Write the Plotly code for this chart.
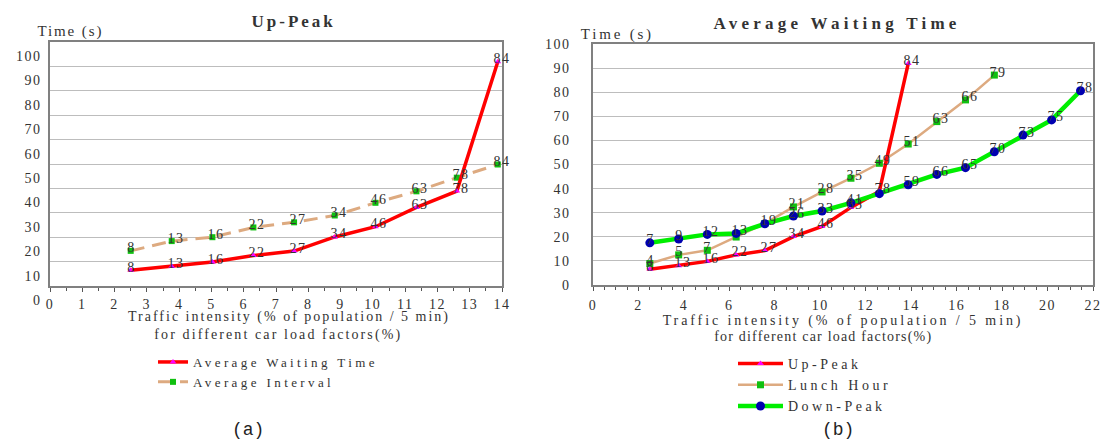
import json
import plotly.graph_objects as go

W, H = 1110, 441

# ---------------- data ----------------
# traffic intensity (% of population / 5 min)
traffic = [2.5, 3.77, 5.03, 6.3, 7.56, 8.82, 10.08, 11.35, 12.6, 13.87,
           15.13, 16.39, 17.66, 18.92, 20.18, 21.45]

up_peak_wait = [6.5, 8.0, 9.8, 12.5, 14.3, 20.1, 24.3, 32.2, 38.9, 91.9]
up_peak_interval = [14.4, 18.4, 20.0, 24.0, 26.1, 28.9, 34.1, 38.8, 44.4, 49.8]
lunch_wait = [8.9, 12.5, 14.4, 19.9, 25.5, 32.4, 38.6, 44.3, 50.5, 58.5, 67.8, 76.8, 87.1]
down_wait = [17.5, 19.1, 21.0, 21.4, 25.4, 28.6, 30.7, 34.1, 37.9, 41.6, 45.9, 48.7,
             55.3, 62.2, 68.5, 80.6]

# car load factors (%) printed next to the points
up_peak_load = ["8", "13", "16", "22", "27", "34", "46", "63", "78", "84"]
interval_load = ["8", "13", "16", "22", "27", "34", "46", "63", "78", "84"]
lunch_load = ["4", "5", "7", "", "", "21", "28", "35", "49", "51", "63", "66", "79"]
down_load = ["7", "9", "12", "13", "19", "26", "33", "41", "", "59", "66", "65",
             "70", "73", "75", "78"]

y_ticks = list(range(0, 101, 10))
x_ticks_a = list(range(0, 15))
x_ticks_b = list(range(0, 23, 2))

# ---------------- style ----------------
SERIF = "Liberation Serif, Times New Roman, serif"
MONO = "Liberation Mono, DejaVu Sans Mono, monospace"
TXT = "#333333"
RED = "#FF0000"
TAN = "#DDAA80"
GREEN_LINE = "#00EE00"
GREEN_MK = "#10C010"
MAGENTA = "#FF00FF"
NAVY = "#0000B0"


def px(xp):
    return xp / W


def py(yp):
    return 1 - yp / H


fig = go.Figure()

# ---- panel (a) ----
fig.add_trace(go.Scatter(
    x=traffic[:len(up_peak_interval)], y=up_peak_interval, name="Average Interval",
    mode="lines+markers", line=dict(color=TAN, width=3, dash="14px,8px"),
    marker=dict(symbol="square", size=6, color=GREEN_MK),
    xaxis="x", yaxis="y", legend="legend", legendrank=2))
fig.add_trace(go.Scatter(
    x=traffic[:len(up_peak_wait)], y=up_peak_wait, name="Average Waiting Time",
    mode="lines+markers", line=dict(color=RED, width=3.5),
    marker=dict(symbol="triangle-up", size=6, color=MAGENTA),
    xaxis="x", yaxis="y", legend="legend", legendrank=1))

# ---- panel (b) ----
fig.add_trace(go.Scatter(
    x=traffic[:len(lunch_wait)], y=lunch_wait, name="Lunch Hour",
    mode="lines+markers", line=dict(color=TAN, width=2.5),
    marker=dict(symbol="square", size=7, color=GREEN_MK),
    xaxis="x2", yaxis="y2", legend="legend2", legendrank=2))
fig.add_trace(go.Scatter(
    x=traffic[:len(up_peak_wait)], y=up_peak_wait, name="Up-Peak",
    mode="lines+markers", line=dict(color=RED, width=3.5),
    marker=dict(symbol="triangle-up", size=6, color=MAGENTA),
    xaxis="x2", yaxis="y2", legend="legend2", legendrank=1))
fig.add_trace(go.Scatter(
    x=traffic[:len(down_wait)], y=down_wait, name="Down-Peak",
    mode="lines+markers", line=dict(color=GREEN_LINE, width=4.5),
    marker=dict(symbol="circle", size=9, color=NAVY),
    xaxis="x2", yaxis="y2", legend="legend2", legendrank=3))

annotations = []


def point_labels(xs, ys, labels, xref, yref):
    for xv, yv, lab in zip(xs, ys, labels):
        if not lab:
            continue
        annotations.append(dict(
            x=xv, y=yv, xref=xref, yref=yref, text=lab, showarrow=False,
            xanchor="left", yanchor="middle", xshift=-5, yshift=3,
            font=dict(family=SERIF, size=14, color=TXT)))


point_labels(traffic, up_peak_interval, interval_load, "x", "y")
point_labels(traffic, up_peak_wait, up_peak_load, "x", "y")
point_labels(traffic, lunch_wait, lunch_load, "x2", "y2")
point_labels(traffic, up_peak_wait, up_peak_load, "x2", "y2")
point_labels(traffic, down_wait, down_load, "x2", "y2")


def label(text, xp, yp, size=15, family=SERIF, bold=False):
    annotations.append(dict(
        x=px(xp), y=py(yp), xref="paper", yref="paper", text=text, showarrow=False,
        xanchor="center", yanchor="middle",
        font=dict(family=family, size=size, color=TXT if family == SERIF else "#222",
                  weight=700 if bold else 400)))


label("Up-Peak", 294, 21, size=17, bold=True)
label("Average Waiting Time", 837, 23, size=17, bold=True)
label("Time (s)", 70, 31)
label("Time (s)", 617, 35)
label("Traffic intensity (% of population / 5 min)", 289, 317, size=14)
label("for different car load factors(%)", 278, 335, size=14)
label("Traffic intensity (% of population / 5 min)", 843, 321, size=14)
label("for different car load factors(%)", 823, 337, size=14)
label("(a)", 248, 430, size=18, family=MONO)
label("(b)", 838, 430, size=18, family=MONO)

tickfont = dict(family=SERIF, size=14, color=TXT)
frame = dict(showline=True, linecolor="#808080", linewidth=1.5, mirror=True,
             zeroline=False)
minor = dict(dtick=0.5, ticks="outside", ticklen=3, tickcolor="#555555",
             tickwidth=1, showgrid=False)

fig.update_layout(
    width=W, height=H, margin=dict(l=0, r=0, t=0, b=0, autoexpand=False),
    paper_bgcolor="white", plot_bgcolor="white",
    showlegend=True,
    xaxis=dict(domain=[px(50), px(502)], range=[0, 14], tickvals=x_ticks_a,
               ticktext=[str(v) for v in x_ticks_a], ticks="outside", ticklen=4,
               tickcolor="#555555", minor=minor, showgrid=False, tickfont=tickfont,
               anchor="y", **frame),
    yaxis=dict(domain=[py(286), py(42)], range=[0, 100], tickvals=y_ticks,
               ticktext=[str(v) for v in y_ticks], ticks="", showgrid=True,
               gridcolor="#bdbdbd", gridwidth=1, tickfont=tickfont,
               ticklabelshift=14, ticklabelstandoff=4, anchor="x", **frame),
    xaxis2=dict(domain=[px(593), px(1093)], range=[0, 22], tickvals=x_ticks_b,
                ticktext=[str(v) for v in x_ticks_b], ticks="outside", ticklen=4,
                tickcolor="#555555", minor=minor, showgrid=False, tickfont=tickfont,
                ticklabelstandoff=2, anchor="y2", **frame),
    yaxis2=dict(domain=[py(285), py(44)], range=[0, 100], tickvals=y_ticks,
                ticktext=[str(v) for v in y_ticks], ticks="", showgrid=True,
                gridcolor="#bdbdbd", gridwidth=1, tickfont=tickfont,
                ticklabelstandoff=18, anchor="x2", **frame),
    legend=dict(x=px(153), y=py(347), xanchor="left", yanchor="top",
                bgcolor="rgba(0,0,0,0)", font=dict(family=SERIF, size=13, color=TXT),
                tracegroupgap=0),
    legend2=dict(x=px(733), y=py(348), xanchor="left", yanchor="top",
                 bgcolor="rgba(0,0,0,0)", font=dict(family=SERIF, size=14, color=TXT),
                 tracegroupgap=0, itemwidth=45),
    annotations=annotations,
)

# letter spacing (px) of the reference's widely spaced lettering
spacing = {
    "B|Up-Peak": 3.0,
    "B|Average Waiting Time": 4.25,
    "Average Waiting Time": 3.4,
    "Average Interval": 3.4,
    "Up-Peak": 3.5,
    "Lunch Hour": 3.5,
    "Down-Peak": 3.5,
    "Time (s)": [1.9, 2.8],
    "Traffic intensity (% of population / 5 min)": [2.0, 2.9],
    "for different car load factors(%)": [2.1, 1.2],
    "(a)": 0,
    "(b)": 0,
}

post = """
(function(){
  var LS = %s;
  var DEF = 1.5;
  function apply(){
    var gd = document.getElementById('{plot_id}');
    if (!gd) return;
    var counts = {};
    gd.querySelectorAll('text').forEach(function(t){
      var s = t.textContent;
      var fw = parseInt(window.getComputedStyle(t).fontWeight, 10) || 400;
      var key = (fw >= 600 ? 'B|' : '') + s;
      var v = DEF;
      if (Object.prototype.hasOwnProperty.call(LS, key)) {
        var e = LS[key];
        if (Array.isArray(e)) {
          var k = counts[key] || 0;
          v = e[Math.min(k, e.length - 1)];
          counts[key] = k + 1;
        } else { v = e; }
      }
      t.style.letterSpacing = v + 'px';
    });
    gd.querySelectorAll('.scrollbox, .legend, .legend2, [clip-path]').forEach(function(g){
      if (g.closest && g.closest('.infolayer')) { g.removeAttribute('clip-path'); }
    });
  }
  apply();
  setTimeout(apply, 30);
})();
""" % json.dumps(spacing)

fig.write_html("out.html", config={"displayModeBar": False}, post_script=post)
